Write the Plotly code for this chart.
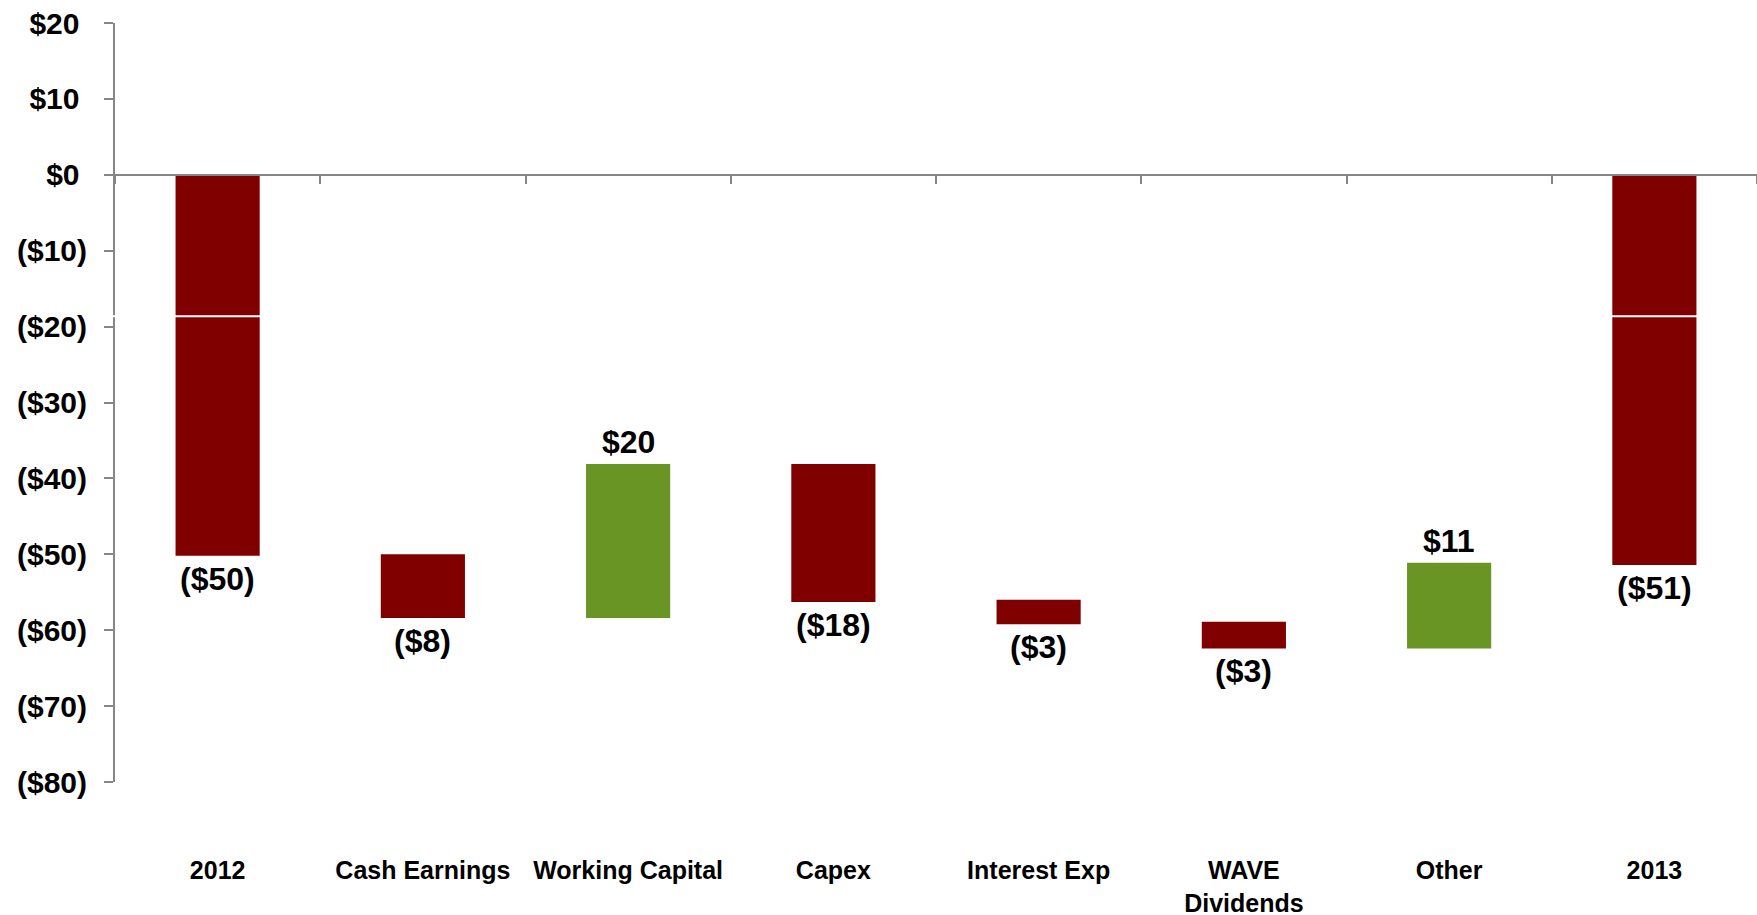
"""
Cash flow bridge 2012 -> 2013, drawn as floating bars (a hand-built waterfall).
"""

import plotly.graph_objects as go

categories = ["2012", "Cash Earnings", "Working Capital", "Capex",
              "Interest Exp", "WAVE<br>Dividends", "Other", "2013"]
bar_base = [0, -50.0, -58.4, -38.1, -56.0, -58.9, -62.4, 0]
bar_change = [-50.2, -8.4, 20.3, -18.2, -3.2, -3.5, 11.3, -51.4]
bar_labels = ["($50)", "($8)", "$20", "($18)", "($3)", "($3)", "$11", "($51)"]

y_ticks = [20, 10, 0, -10, -20, -30, -40, -50, -60, -70, -80]
# positive labels get a ")"-wide pad, like Excel's $#,##0_) format
y_ticktext = ["$20\u2005", "$10\u2005", "$0\u2005", "($10)", "($20)", "($30)",
              "($40)", "($50)", "($60)", "($70)", "($80)"]
axis_break = -18.65

Y_MIN, Y_MAX = -80, 20
RED = "#800000"
GREEN = "#689524"
GRAY = "#868686"
FONT = "Liberation Sans, Arial, sans-serif"

colors = [GREEN if c > 0 else RED for c in bar_change]
n = len(categories)

fig = go.Figure()
fig.add_trace(go.Bar(
    x=categories, y=bar_change, base=bar_base, width=0.41,
    marker=dict(color=colors, line=dict(width=0)),
    hoverinfo="skip", showlegend=False,
))
# empty trace so the zero-line axis (x2) gets drawn
fig.add_trace(go.Scatter(x=[], y=[], xaxis="x2", yaxis="y",
                         showlegend=False, hoverinfo="skip"))

# value labels: below falling bars, above rising ones
# (x given as category index, since "2012" would be read as a number)
for i, (base, chg, lab) in enumerate(zip(bar_base, bar_change, bar_labels)):
    end = base + chg
    if chg < 0:
        fig.add_annotation(x=i, y=min(base, end), text=lab, showarrow=False,
                           yanchor="top", yshift=-3)
    else:
        fig.add_annotation(x=i, y=max(base, end), text=lab, showarrow=False,
                           yanchor="bottom", yshift=2)
fig.update_annotations(font=dict(family=FONT, size=32, color="black", weight="bold"))

# white axis-break line through the tall bars and the y axis
fig.add_shape(type="line", xref="paper", yref="y", x0=-0.006, x1=1,
              y0=axis_break, y1=axis_break, line=dict(color="white", width=2),
              layer="above")

fig.update_layout(
    width=1757, height=915,
    margin=dict(l=115, r=0, t=23, b=133),
    plot_bgcolor="white", paper_bgcolor="white",
    font=dict(family=FONT, color="black"),
    xaxis=dict(
        type="category", categoryorder="array", categoryarray=categories,
        range=[-0.5, n - 0.5], showline=False, ticks="", showgrid=False,
        zeroline=False, tickfont=dict(size=25, weight="bold"),
        ticklabelstandoff=71, automargin=False,
    ),
    xaxis2=dict(
        overlaying="x", anchor="free", side="bottom",
        position=(0 - Y_MIN) / (Y_MAX - Y_MIN),
        range=[-0.5, n - 0.5], tickmode="array",
        tickvals=[i - 0.5 for i in range(n + 1)], showticklabels=False,
        showline=True, linecolor=GRAY, linewidth=2,
        ticks="outside", ticklen=8, tickwidth=2, tickcolor=GRAY,
        showgrid=False, zeroline=False, automargin=False,
    ),
    yaxis=dict(
        range=[Y_MIN, Y_MAX], tickmode="array", tickvals=y_ticks,
        ticktext=y_ticktext, showline=True, linecolor=GRAY, linewidth=2,
        ticks="outside", ticklen=9, tickwidth=2, tickcolor=GRAY,
        showgrid=False, zeroline=False, automargin=False,
        tickfont=dict(size=30, weight="bold"), ticklabelstandoff=11,
    ),
)

fig.write_html("out.html", config={"displayModeBar": False},
               post_script="document.body.style.margin='0';")
